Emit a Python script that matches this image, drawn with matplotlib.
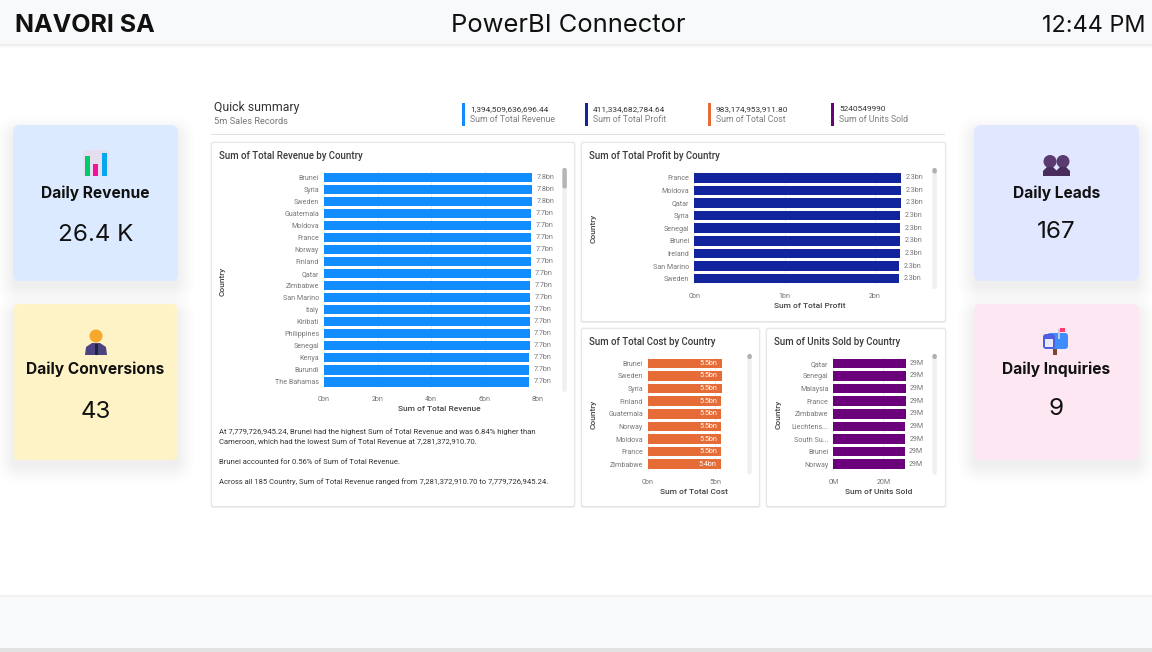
import matplotlib
matplotlib.use("Agg")
import matplotlib.pyplot as plt
from matplotlib.patches import Rectangle, FancyBboxPatch, Circle, Polygon

W, H = 1152, 652
UI_FONT = "Inter"
BI_FONT = "Roboto"

#######
# Data

rev_countries = ["Brunei", "Syria", "Sweden", "Guatemala", "Moldova", "France", "Norway", "Finland", "Qatar",
                 "Zimbabwe", "San Marino", "Italy", "Kiribati", "Philippines", "Senegal", "Kenya", "Burundi", "The Bahamas"]
rev_values = [7.78, 7.78, 7.78, 7.74, 7.74, 7.74, 7.74, 7.74, 7.72, 7.71, 7.71, 7.70, 7.70, 7.69, 7.69, 7.68, 7.68, 7.68]
rev_labels = ["7.8bn"] * 3 + ["7.7bn"] * 15
rev_ticks = [0, 2, 4, 6, 8]

profit_countries = ["France", "Moldova", "Qatar", "Syria", "Senegal", "Brunei", "Ireland", "San Marino", "Sweden"]
profit_values = [2.29, 2.29, 2.29, 2.28, 2.28, 2.28, 2.28, 2.27, 2.27]
profit_labels = ["2.3bn"] * 9
profit_ticks = [0, 1, 2]

cost_countries = ["Brunei", "Sweden", "Syria", "Finland", "Guatemala", "Norway", "Moldova", "France", "Zimbabwe"]
cost_values = [5.47, 5.47, 5.47, 5.46, 5.46, 5.45, 5.44, 5.44, 5.39]
cost_labels = ["5.5bn"] * 8 + ["5.4bn"]
cost_ticks = [0, 5]

units_countries = ["Qatar", "Senegal", "Malaysia", "France", "Zimbabwe", "Liechtens...", "South Su...", "Brunei", "Norway"]
units_values = [29.1, 29.0, 29.0, 28.9, 28.9, 28.8, 28.8, 28.7, 28.7]
units_labels = ["29M"] * 9
units_ticks = [0, 20]

kpi_values = ["1,394,509,636,696.44", "411,334,682,784.64", "983,174,953,911.80", "5240549990"]
kpi_names = ["Sum of Total Revenue", "Sum of Total Profit", "Sum of Total Cost", "Sum of Units Sold"]
kpi_colors = ["#118DFF", "#12239E", "#E66C37", "#6B007B"]

card_titles = ["Daily Revenue", "Daily Conversions", "Daily Leads", "Daily Inquiries"]
card_values = ["26.4 K", "43", "167", "9"]
card_colors = ["#dbeafe", "#fef3c7", "#e0e7ff", "#fce7f3"]

narrative = ["At 7,779,726,945.24, Brunei had the highest Sum of Total Revenue and was 6.84% higher than",
             "Cameroon, which had the lowest Sum of Total Revenue at 7,281,372,910.70.",
             "Brunei accounted for 0.56% of Sum of Total Revenue.",
             "Across all 185 Country, Sum of Total Revenue ranged from 7,281,372,910.70 to 7,779,726,945.24."]

#######
# Page background, all in pixel coordinates

fig = plt.figure(figsize=(W / 100, H / 100), dpi=100, facecolor="white")
bg = fig.add_axes([0, 0, 1, 1])
bg.set_xlim(0, W)
bg.set_ylim(H, 0)
bg.axis("off")


def rect(x0, y0, x1, y1, color, **kw):
    bg.add_patch(Rectangle((x0, y0), x1 - x0, y1 - y0, facecolor=color, edgecolor="none", **kw))


def rounded(x0, y0, x1, y1, color, r=6, **kw):
    bg.add_patch(FancyBboxPatch((x0 + r, y0 + r), x1 - x0 - 2 * r, y1 - y0 - 2 * r,
                                boxstyle="round,pad=%g,rounding_size=%g" % (r, r),
                                facecolor=color, edgecolor="none", **kw))


def card(x0, y0, x1, y1, color, title, value, y_title, y_value):
    # soft drop shadow
    for grow in [16, 13, 10, 8, 6, 4, 2, 0]:
        rounded(x0 - grow, y0 - grow + 7, x1 + grow, y1 + grow + 7, "black", r=7 + grow, alpha=0.009)
    rounded(x0, y0, x1, y1, color, r=7)
    xc = (x0 + x1) / 2
    bg.text(xc, y_title + 1, title, ha="center", va="center", family=UI_FONT, fontsize=11.2, fontweight="bold", color="#111111")
    bg.text(xc, y_value + 2, value, ha="center", va="center", family=UI_FONT, fontsize=17.4, color="#111111")


def panel(x0, y0, x1, y1, title):
    for grow, col in [(1.5, "#f0f0f0"), (0.8, "#e6e6e6")]:
        rounded(x0 - grow, y0 - grow, x1 + grow, y1 + grow + 0.5, col, r=2.5)
    rounded(x0, y0, x1, y1, "white", r=2)
    bg.text(x0 + 7, y0 + 13, title, ha="left", va="center", family=BI_FONT, fontsize=6.9, fontweight="medium", color="#3a3a3a")


# header and footer
for i, col in enumerate(["#ececec", "#f2f2f2", "#f7f7f7", "#fbfbfb"]):
    rect(0, 44 + i, W, 45 + i, col)
rect(0, 0, W, 44, "#f8f9fa")
bg.text(15, 25.5, "NAVORI SA", ha="left", va="center", family=UI_FONT, fontsize=18, fontweight="bold", color="#111111")
bg.text(568, 25.5, "PowerBI Connector", ha="center", va="center", family=UI_FONT, fontsize=18.4, color="#111111")
bg.text(1146, 25.5, "12:44 PM", ha="right", va="center", family=UI_FONT, fontsize=16.9, color="#111111")
for i, col in enumerate(["#fbfbfb", "#f5f5f5", "#efefef"]):
    rect(0, 594 + i, W, 595 + i, col)
rect(0, 597, W, 648, "#f8f9fa")
rect(0, 648, W, H, "#e2e2e2")

# stat cards
card(13, 125, 178, 281, card_colors[0], card_titles[0], card_values[0], 192, 233)
card(13, 304, 178, 460, card_colors[1], card_titles[1], card_values[1], 368, 410)
card(974, 125, 1139, 281, card_colors[2], card_titles[2], card_values[2], 192, 230)
card(974, 304, 1139, 460, card_colors[3], card_titles[3], card_values[3], 368, 407)

# card icons: bar chart
rounded(83, 150, 109, 176, "#e4deef", r=2)
rect(84.5, 156, 90, 176, "#00c96b")
rect(92.5, 164, 98, 176, "#f5119a")
rect(101.5, 153, 107, 176, "#06a6ee")
# person
bg.add_patch(Polygon([(85, 355), (86, 347), (92, 343), (100, 343), (106, 347), (107, 355)], facecolor="#4b4480", edgecolor="none"))
rect(94.5, 344, 97.5, 355, "#1f2340")
bg.add_patch(Circle((96, 336), 6.5, facecolor="#f6a92c", edgecolor="none"))
# two busts
for xc in [1050, 1063]:
    bg.add_patch(Circle((xc, 161.5), 6.5, facecolor="#5b3a70", edgecolor="none"))
    bg.add_patch(Polygon([(xc - 7, 176), (xc - 7, 171), (xc - 3, 167), (xc + 3, 167), (xc + 7, 171), (xc + 7, 176)],
                         facecolor="#472c5c", edgecolor="none"))
# mailbox
rect(1053, 348, 1057, 355, "#7a4a30")
rounded(1047, 333, 1068, 349, "#3f8cff", r=3)
rounded(1043, 334, 1055, 349, "#4c5fe0", r=3)
rect(1045, 339, 1053, 347, "#ece9f7")
rect(1058, 329, 1060, 339, "#c8c8d0")
rect(1060, 328, 1065, 332, "#ff3d6e")

# report heading
bg.text(214, 107, "Quick summary", ha="left", va="center", family=BI_FONT, fontsize=8.8, color="#333333")
bg.text(214, 122, "5m Sales Records", ha="left", va="center", family=BI_FONT, fontsize=6.7, color="#777777")
rect(211, 134, 945, 135, "#e0e0e0")
for x, val, name, col in zip([462, 585, 708, 831], kpi_values, kpi_names, kpi_colors):
    rect(x, 103, x + 2.6, 126, col)
    bg.text(x + 8, 109, val, ha="left", va="center", family=BI_FONT, fontsize=5.95, color="#333333")
    bg.text(x + 8, 120, name, ha="left", va="center", family=BI_FONT, fontsize=6.3, color="#808080")

panel(212, 143, 574, 506, "Sum of Total Revenue by Country")
panel(582, 143, 945, 321, "Sum of Total Profit by Country")
panel(582, 329, 759, 506, "Sum of Total Cost by Country")
panel(767, 329, 945, 506, "Sum of Units Sold by Country")

for y, line in zip([432, 442, 462, 482], narrative):
    bg.text(219, y, line, ha="left", va="center", family=BI_FONT, fontsize=5.47, color="#333333")


def scrollbar(x0, y0, y1, thumb_end, thumb_color):
    rounded(x0, y0, x0 + 4.4, y1, "#f0f0f0", r=2)
    rounded(x0, y0, x0 + 4.4, thumb_end, thumb_color, r=2)


scrollbar(562.4, 168, 392, 188.5, "#b5b5b5")
scrollbar(932.4, 168, 289, 173.5, "#b0b0b0")
scrollbar(747.4, 354, 474.5, 359, "#b0b0b0")
scrollbar(932.4, 354, 474.5, 359, "#b0b0b0")


def bar_chart(px, countries, values, labels, ticks, tick_fmt, xmax, color, xtitle, xtitle_pos, ytitle_pos,
              tick_y, inside=False):
    x0, y0, x1, y1 = px
    ax = fig.add_axes([x0 / W, 1 - y1 / H, (x1 - x0) / W, (y1 - y0) / H])
    ax.patch.set_alpha(0)
    pos = list(range(len(countries)))
    ax.barh(pos, values, height=0.76, color=color, zorder=3)
    ax.set_xlim(0, xmax)
    ax.set_ylim(len(countries) - 0.5, -0.5)
    ax.set_yticks(pos, countries)
    ax.set_xticks(ticks, [tick_fmt % t for t in ticks])
    ax.tick_params(axis="both", length=0, labelsize=5.1, labelcolor="#777777")
    ax.tick_params(axis="y", pad=3.6)
    ax.tick_params(axis="x", pad=tick_y)
    for lab in ax.get_xticklabels() + ax.get_yticklabels():
        lab.set_family(BI_FONT)
    ax.grid(axis="x", color="#ececec", linewidth=0.7, zorder=0)
    ax.set_axisbelow(True)
    for s in ax.spines.values():
        s.set_visible(False)
    for p, v, lab in zip(pos, values, labels):
        if inside:
            ax.annotate(lab, (v, p), xytext=(-3, 0), textcoords="offset points", ha="right", va="center",
                        family=BI_FONT, fontsize=5.1, color="white", zorder=4)
        else:
            ax.annotate(lab, (v, p), xytext=(3, 0), textcoords="offset points", ha="left", va="center",
                        family=BI_FONT, fontsize=5.1, color="#777777", zorder=4)
    bg.text(xtitle_pos[0], xtitle_pos[1], xtitle, ha="center", va="center", family=BI_FONT,
            fontsize=6.0, fontweight="medium", color="#444444")
    bg.text(ytitle_pos[0], ytitle_pos[1], "Country", ha="center", va="center", rotation=90, family=BI_FONT,
            fontsize=6.0, fontweight="medium", color="#444444")
    return ax


bar_chart((324, 171.3, 538, 388), rev_countries, rev_values, rev_labels, rev_ticks, "%dbn", 8,
          kpi_colors[0], "Sum of Total Revenue", (439.5, 409), (223, 281), 5.5)
bar_chart((694.3, 171.4, 902, 285), profit_countries, profit_values, profit_labels, profit_ticks, "%dbn", 2.3,
          kpi_colors[1], "Sum of Total Profit", (810, 306.5), (594, 228), 5.5)
bar_chart((648, 357, 722, 470.6), cost_countries, cost_values, cost_labels, cost_ticks, "%dbn", 5.5,
          kpi_colors[2], "Sum of Total Cost", (694, 492), (594, 414), 6, inside=True)
bar_chart((833.3, 357, 908.3, 470.6), units_countries, units_values, units_labels, units_ticks, "%dM", 30,
          kpi_colors[3], "Sum of Units Sold", (879, 492), (779, 414), 6)

plt.savefig("out.png", dpi=100)
